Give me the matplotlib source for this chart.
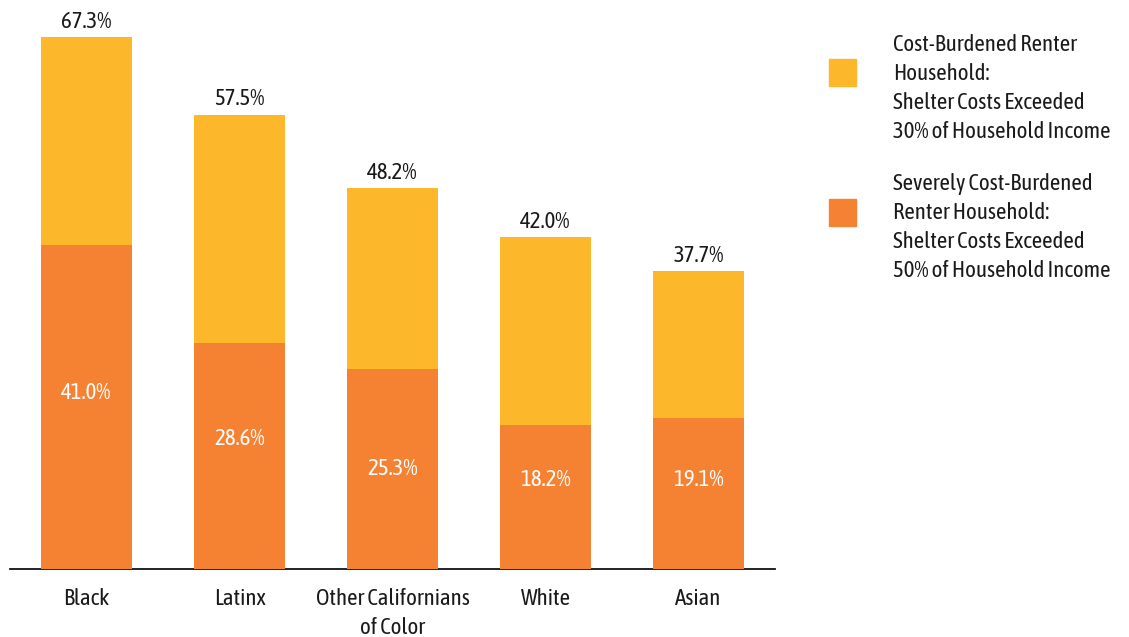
import matplotlib
matplotlib.use("Agg")
import matplotlib.pyplot as plt
from matplotlib import font_manager as fm
from matplotlib.patches import Rectangle

# ---- data ----
categories = ["Black", "Latinx", "Other Californians\nof Color", "White", "Asian"]
cost_burdened = [67.3, 57.5, 48.2, 42.0, 37.7]
severely_burdened = [41.0, 28.6, 25.3, 18.2, 19.1]
legend_labels = [
    "Cost-Burdened Renter\nHousehold:\nShelter Costs Exceeded\n30% of Household Income",
    "Severely Cost-Burdened\nRenter Household:\nShelter Costs Exceeded\n50% of Household Income",
]
# vertical placement of the inner (white) labels, in data units
inner_label_pos = [22.3, 16.4, 12.6, 11.2, 11.2]

YELLOW = "#FCB72A"
ORANGE = "#F58233"
TEXT = "#1a1a1a"

names = {f.name for f in fm.fontManager.ttflist}
prefs = ["Asap Condensed", "PT Sans Narrow", "Fira Sans Condensed", "Roboto Condensed",
         "Liberation Sans Narrow", "Roboto"]
family = next((p for p in prefs if p in names), "DejaVu Sans")
plt.rcParams["font.family"] = [family, "DejaVu Sans"]
plt.rcParams["font.weight"] = "normal"

W, H = 1129, 637
fig = plt.figure(figsize=(W / 100, H / 100), dpi=100)
ax = fig.add_axes([10 / W, (H - 569) / H, (775 - 10) / W, 569 / H])

x = list(range(len(categories)))
bw = 0.60
ax.bar(x, cost_burdened, width=bw, color=YELLOW, zorder=2)
ax.bar(x, severely_burdened, width=bw, color=ORANGE, zorder=3)

FS = 16.5
for xi, tot, sev, ly in zip(x, cost_burdened, severely_burdened, inner_label_pos):
    ax.annotate(f"{tot:.1f}%", (xi, tot), xytext=(0, 3), textcoords="offset points",
                ha="center", va="bottom", fontsize=FS, color=TEXT)
    ax.text(xi, ly, f"{sev:.1f}%", ha="center", va="center", fontsize=FS, color="white", zorder=4)

ax.set_xlim(-0.5, len(categories) - 0.5)
ax.set_ylim(0, 72.0)
ax.set_xticks(x)
ax.set_xticklabels(categories, fontsize=FS, color=TEXT, linespacing=1.4)
ax.tick_params(axis="x", length=0, pad=13.5)
ax.set_yticks([])
for s in ["top", "right", "left"]:
    ax.spines[s].set_visible(False)
ax.spines["bottom"].set_linewidth(1.3)
ax.spines["bottom"].set_color("#111111")

# legend
for lab, col, sq_top, txt_top in zip(legend_labels, [YELLOW, ORANGE], [59, 199], [34, 173]):
    fig.patches.append(Rectangle((829 / W, 1 - (sq_top + 27) / H), 27 / W, 27 / H,
                                 transform=fig.transFigure, color=col))
    fig.text(893 / W, 1 - txt_top / H, lab, ha="left", va="top", fontsize=FS,
             color=TEXT, linespacing=1.42)

fig.savefig("out.png", dpi=100)
